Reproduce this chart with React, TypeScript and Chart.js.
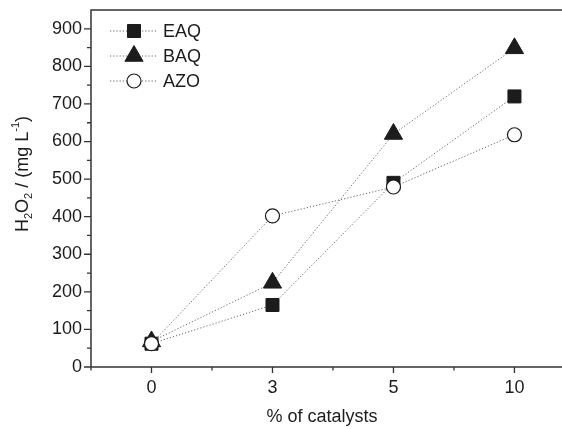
import React, { useEffect, useRef } from 'react';
import { Chart, registerables } from 'chart.js';
import { drawPoint } from 'chart.js/helpers';

Chart.register(...registerables);

const categories = ['0', '3', '5', '10'];
const eaqValues = [62, 165, 490, 720];
const baqValues = [68, 224, 620, 848];
const azoValues = [62, 402, 479, 618];
const yMajorTicks = [0, 100, 200, 300, 400, 500, 600, 700, 800, 900];
const seriesNames = ['EAQ', 'BAQ', 'AZO'];

const FONT = '"Liberation Sans", Arial, Helvetica, sans-serif';
const INK = '#1c1c1c';

const styles = [
  { pointStyle: 'rect', radius: 9.2, fill: '#1c1c1c', stroke: '#1c1c1c', bw: 1 },
  { pointStyle: 'triangle', radius: 10.5, fill: '#1c1c1c', stroke: '#1c1c1c', bw: 1 },
  { pointStyle: 'circle', radius: 7, fill: '#ffffff', stroke: '#1c1c1c', bw: 1.2 },
];

const toPoints = (vals: number[]) => vals.map((v, i) => ({ x: i, y: v }));

const framePlugin = {
  id: 'frame',
  afterDraw(chart: any) {
    const ctx = chart.ctx;
    const area = chart.chartArea;
    const xs = chart.scales.x;
    const ys = chart.scales.y;
    ctx.save();
    // frame
    ctx.strokeStyle = '#333';
    ctx.lineWidth = 1.5;
    ctx.beginPath();
    ctx.moveTo(area.left, area.bottom);
    ctx.lineTo(area.left, area.top);
    ctx.lineTo(area.right, area.top);
    ctx.moveTo(area.left, area.bottom);
    ctx.lineTo(area.right, area.bottom);
    ctx.stroke();
    // ticks
    ctx.lineWidth = 1.3;
    ctx.beginPath();
    ys.ticks.forEach((t: any) => {
      const py = ys.getPixelForValue(t.value);
      const len = t.value % 100 === 0 ? 7 : 4;
      ctx.moveTo(area.left - len, py);
      ctx.lineTo(area.left, py);
    });
    xs.ticks.forEach((t: any) => {
      const px = xs.getPixelForValue(t.value);
      const len = Number.isInteger(t.value) ? 6 : 3.5;
      ctx.moveTo(px, area.bottom);
      ctx.lineTo(px, area.bottom + len);
    });
    ctx.stroke();

    // x title
    ctx.fillStyle = INK;
    ctx.font = `18px ${FONT}`;
    ctx.textAlign = 'center';
    ctx.textBaseline = 'middle';
    ctx.fillText('% of catalysts', 322, 417);

    // y title with sub/superscripts
    const parts = [
      { t: 'H', k: 0 },
      { t: '2', k: 1 },
      { t: 'O', k: 0 },
      { t: '2', k: 1 },
      { t: ' / (mg L', k: 0 },
      { t: '-1', k: 2 },
      { t: ')', k: 0 },
    ];
    const fontFor = (k: number) => (k === 0 ? `18px ${FONT}` : `11px ${FONT}`);
    let total = 0;
    parts.forEach((p) => {
      ctx.font = fontFor(p.k);
      total += ctx.measureText(p.t).width;
    });
    ctx.translate(23, 174);
    ctx.rotate(-Math.PI / 2);
    ctx.textAlign = 'left';
    let cx = -total / 2;
    parts.forEach((p) => {
      ctx.font = fontFor(p.k);
      const dy = p.k === 1 ? 6 : p.k === 2 ? -7 : 0;
      ctx.fillText(p.t, cx, dy);
      cx += ctx.measureText(p.t).width;
    });
    ctx.restore();

    // legend
    ctx.save();
    const rows = [31, 56, 81];
    seriesNames.forEach((name, i) => {
      const y = rows[i];
      ctx.strokeStyle = '#666';
      ctx.lineWidth = 1;
      ctx.setLineDash([1.2, 2]);
      ctx.beginPath();
      ctx.moveTo(110, y);
      ctx.lineTo(157, y);
      ctx.stroke();
      ctx.setLineDash([]);
      const s = styles[i];
      ctx.fillStyle = s.fill;
      ctx.strokeStyle = s.stroke;
      ctx.lineWidth = s.bw;
      drawPoint(ctx, { pointStyle: s.pointStyle, radius: s.radius, rotation: 0, borderWidth: s.bw } as any, 134, y);
      ctx.fillStyle = INK;
      ctx.font = `18px ${FONT}`;
      ctx.textAlign = 'left';
      ctx.textBaseline = 'middle';
      ctx.fillText(name, 163, y + 1);
    });
    ctx.restore();
  },
};

export default function App() {
  const ref = useRef<HTMLCanvasElement | null>(null);
  useEffect(() => {
    document.body.style.margin = '0';
    const canvas = ref.current;
    if (!canvas) return;
    const allValues = [eaqValues, baqValues, azoValues];
    const chart = new Chart(canvas, {
      type: 'scatter',
      data: {
        datasets: allValues.map((vals, i) => ({
          label: seriesNames[i],
          data: toPoints(vals),
          showLine: true,
          borderColor: '#666',
          borderWidth: 1,
          borderDash: [1.2, 2],
          pointStyle: styles[i].pointStyle as any,
          pointRadius: styles[i].radius,
          pointHoverRadius: styles[i].radius,
          pointBackgroundColor: styles[i].fill,
          pointBorderColor: styles[i].stroke,
          pointBorderWidth: styles[i].bw,
          order: 3 - i,
        })),
      },
      options: {
        responsive: false,
        animation: false,
        events: [],
        layout: { autoPadding: false, padding: { top: 10, left: 0, right: 0, bottom: 0 } },
        plugins: { legend: { display: false }, tooltip: { enabled: false } },
        scales: {
          x: {
            type: 'linear',
            min: -0.5,
            max: 3.393,
            afterBuildTicks: (scale: any) => {
              scale.ticks = [-0.5, 0, 0.5, 1, 1.5, 2, 2.5, 3].map((v) => ({ value: v }));
            },
            afterFit: (scale: any) => {
              scale.height = 62;
              scale.paddingLeft = 0;
              scale.paddingRight = 0;
            },
            grid: { display: true, drawOnChartArea: false, drawTicks: true, tickLength: 6, color: 'transparent', tickColor: 'transparent' },
            border: { display: false },
            ticks: {
              autoSkip: false,
              maxRotation: 0,
              padding: 4,
              color: INK,
              font: { family: FONT, size: 18 },
              callback: (v: any) => (Number.isInteger(v) ? categories[v] : ''),
            },
          },
          y: {
            type: 'linear',
            min: 0,
            max: 950,
            afterBuildTicks: (scale: any) => {
              const t: any[] = [];
              yMajorTicks.forEach((v) => {
                t.push({ value: v });
                t.push({ value: v + 50 });
              });
              scale.ticks = t.filter((o) => o.value <= 900);
            },
            afterFit: (scale: any) => {
              scale.width = 91;
              scale.paddingTop = 0;
              scale.paddingBottom = 0;
            },
            grid: { display: true, drawOnChartArea: false, drawTicks: true, tickLength: 7, color: 'transparent', tickColor: 'transparent' },
            border: { display: false },
            ticks: {
              autoSkip: false,
              padding: 2,
              color: INK,
              font: { family: FONT, size: 18 },
              callback: (v: any) => (v % 100 === 0 ? String(v) : ''),
            },
          },
        },
      },
      plugins: [framePlugin],
    });
    return () => chart.destroy();
  }, []);
  return <canvas ref={ref} width={562} height={429} style={{ display: 'block' }} />;
}
